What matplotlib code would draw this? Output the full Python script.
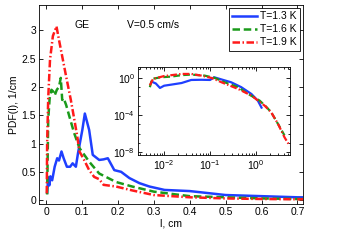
import matplotlib
matplotlib.use("Agg")
import matplotlib.pyplot as plt
import numpy as np
from matplotlib.ticker import FixedLocator, LogFormatterMathtext, NullFormatter

# ---- main panel data ----
x_b = [0.003, 0.006, 0.009, 0.012, 0.017, 0.024, 0.031, 0.036, 0.043, 0.049, 0.058, 0.067, 0.074,
       0.083, 0.089, 0.101, 0.108, 0.12, 0.13, 0.148, 0.16, 0.172, 0.19, 0.209, 0.232, 0.26, 0.288,
       0.33, 0.4, 0.5, 0.6, 0.7, 0.72]
y_b = [0.13, 0.4, 0.26, 0.42, 0.35, 0.59, 0.74, 0.7, 0.86, 0.74, 0.59, 0.59, 0.65,
       0.59, 0.83, 1.24, 1.53, 1.24, 0.80, 0.71, 0.72, 0.74, 0.53, 0.5, 0.39, 0.3, 0.24,
       0.18, 0.16, 0.09, 0.07, 0.05, 0.05]

x_g = [0.003, 0.006, 0.01, 0.015, 0.02, 0.024, 0.03, 0.036, 0.041, 0.045, 0.049, 0.056, 0.064,
       0.078, 0.093, 0.12, 0.148, 0.195, 0.24, 0.3, 0.4, 0.5, 0.6, 0.7, 0.72]
y_g = [0.1, 1.42, 1.8, 1.95, 1.92, 1.85, 1.95, 2.0, 2.16, 1.77, 1.8, 1.68, 1.5,
       1.19, 0.92, 0.68, 0.47, 0.32, 0.24, 0.15, 0.07, 0.05, 0.03, 0.02, 0.02]

x_r = [0.002, 0.003, 0.006, 0.011, 0.019, 0.029, 0.037, 0.045, 0.057, 0.069, 0.078, 0.087, 0.093,
       0.106, 0.12, 0.134, 0.148, 0.16, 0.195, 0.241, 0.3, 0.4, 0.5, 0.6, 0.7, 0.72]
y_r = [0.12, 1.0, 1.8, 2.48, 2.9, 3.07, 2.8, 2.54, 2.15, 1.77, 1.45, 1.12, 0.86,
       0.71, 0.53, 0.41, 0.37, 0.27, 0.24, 0.17, 0.09, 0.05, 0.03, 0.02, 0.015, 0.015]

# ---- inset (log-log) data: log10 values ----
lx_b = [-2.24, -2.18, -2.09, -2.0, -1.84, -1.62, -1.41, -1.19, -1.0, -0.91, -0.74, -0.54, -0.32, -0.10, 0.04, 0.12]
ly_b = [-0.47, -0.6, -1.08, -0.84, -0.72, -0.55, -0.22, -0.2, -0.22, 0.07, -0.18, -0.47, -1.0, -1.73, -2.45, -3.2]

lx_g = [-2.31, -2.26, -2.07, -1.85, -1.62, -1.41, -1.12, -0.90, -0.68, -0.39, -0.17, 0.08, 0.22, 0.33, 0.48, 0.62]
ly_g = [-1.0, -0.1, 0.07, 0.14, 0.3, 0.36, 0.25, 0.0, -0.47, -1.0, -1.73, -2.45, -3.1, -3.7, -4.97, -6.2]

lx_r = [-2.31, -2.24, -2.0, -1.62, -1.41, -1.19, -0.97, -0.75, -0.39, -0.10, 0.19, 0.33, 0.48, 0.62, 0.73]
ly_r = [-0.8, -0.1, 0.2, 0.43, 0.43, 0.25, 0.0, -0.47, -1.19, -1.9, -3.0, -3.7, -4.97, -6.4, -7.3]

labels = ["T=1.3 K", "T=1.6 K", "T=1.9 K"]
c_b, c_g, c_r = "#1f3fff", "#1a9a1a", "#ff1a1a"

plt.rcParams['font.family'] = ['Liberation Sans', 'DejaVu Sans']
fs = 7.5

fig = plt.figure(figsize=(3.38, 2.45), dpi=100)
ax = fig.add_axes([0.115, 0.167, 0.781, 0.813])
ax.plot(x_b, y_b, color=c_b, lw=1.8, ls='-', label=labels[0])
ax.plot(x_g, y_g, color=c_g, lw=1.8, ls=(0, (3, 1.5)), label=labels[1])
ax.plot(x_r, y_r, color=c_r, lw=1.8, ls=(0, (3, 1, 0.6, 1)), label=labels[2])
ax.set_xlim(-0.02, 0.715)
ax.set_ylim(-0.07, 3.45)
ax.set_xticks([0, 0.1, 0.2, 0.3, 0.4, 0.5, 0.6, 0.7])
ax.set_xticklabels(["0", "0.1", "0.2", "0.3", "0.4", "0.5", "0.6", "0.7"])
ax.set_yticks([0, 0.5, 1, 1.5, 2, 2.5, 3])
ax.set_yticklabels(["0", "0.5", "1", "1.5", "2", "2.5", "3"])
ax.tick_params(direction='in', top=True, right=True, labelsize=fs, length=3, width=0.6, pad=2)
for s in ax.spines.values():
    s.set_linewidth(0.6)
ax.set_xlabel("l, cm", fontsize=fs, labelpad=1)
ax.set_ylabel("PDF(l), 1/cm", fontsize=fs, labelpad=2)
ax.text(0.10, 3.1, "GE", fontsize=fs, ha='center', va='center')
ax.text(0.224, 3.1, "V=0.5 cm/s", fontsize=fs, ha='left', va='center')
leg = ax.legend(loc='upper right', fontsize=fs, frameon=True, fancybox=False, edgecolor='black',
                framealpha=1, handlelength=2.4, handletextpad=0.3, borderpad=0.3, labelspacing=0.3,
                borderaxespad=0.3)
leg.get_frame().set_linewidth(0.6)

ins = fig.add_axes([0.408, 0.367, 0.45, 0.36])
ins.plot(10**np.array(lx_b), 10**np.array(ly_b), color=c_b, lw=1.6, ls='-')
ins.plot(10**np.array(lx_g), 10**np.array(ly_g), color=c_g, lw=1.6, ls=(0, (3, 1.5)))
ins.plot(10**np.array(lx_r), 10**np.array(ly_r), color=c_r, lw=1.6, ls=(0, (3, 1, 0.6, 1)))
ins.set_xscale('log')
ins.set_yscale('log')
ins.set_xlim(10**-2.57, 10**0.74)
ins.set_ylim(10**-8.32, 10**1.19)
ins.xaxis.set_major_locator(FixedLocator([1e-2, 1e-1, 1e0]))
ins.yaxis.set_major_locator(FixedLocator([1e-8, 1e-4, 1e0]))
ins.xaxis.set_major_formatter(LogFormatterMathtext())
ins.yaxis.set_major_formatter(LogFormatterMathtext())
xm = [m * 10.0**e for e in range(-3, 1) for m in range(2, 10)]
ins.xaxis.set_minor_locator(FixedLocator(xm))
ins.yaxis.set_minor_locator(FixedLocator([10.0**e for e in range(-9, 2)]))
ins.xaxis.set_minor_formatter(NullFormatter())
ins.yaxis.set_minor_formatter(NullFormatter())
ins.tick_params(which='both', direction='in', top=True, right=True, labelsize=fs, width=0.6, pad=2)
ins.tick_params(which='major', length=3)
ins.tick_params(which='minor', length=1.5)
for s in ins.spines.values():
    s.set_linewidth(0.6)

fig.savefig("out.png", dpi=100)
